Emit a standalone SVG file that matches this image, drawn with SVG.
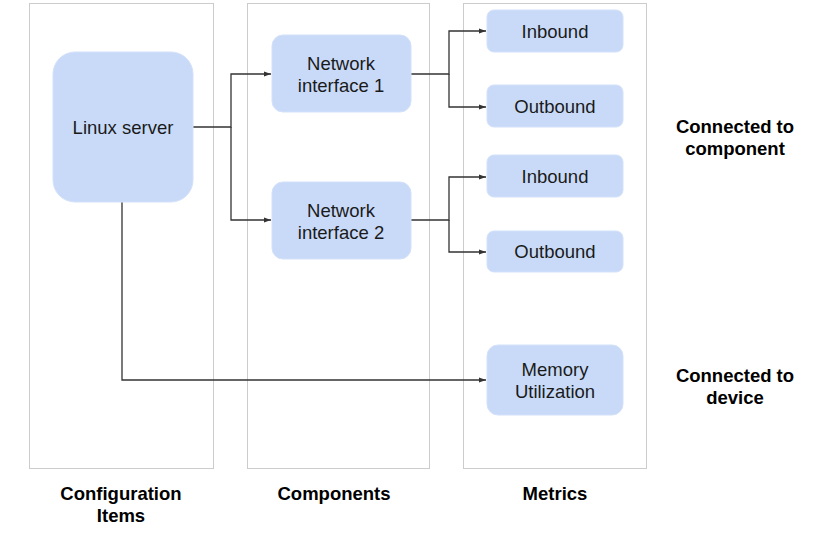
<svg xmlns="http://www.w3.org/2000/svg" width="813" height="536" viewBox="0 0 813 536">
<style>
.col{fill:#ffffff;stroke:#cccccc;stroke-width:1}
.node{fill:#c9daf8;stroke:#d3e1fa;stroke-width:1}
.t{font-family:"Liberation Sans",Arial,sans-serif;font-size:18.5px;fill:#1a1a1a;text-anchor:middle}
.b{font-family:"Liberation Sans",Arial,sans-serif;font-size:18.5px;font-weight:bold;fill:#000000;text-anchor:middle}
.c{fill:none;stroke:#333333;stroke-width:1.3}
</style>
<defs>
<marker id="ah" markerWidth="8" markerHeight="6" refX="7" refY="3" orient="auto" markerUnits="userSpaceOnUse">
<path d="M0,0.5 L7,3 L0,5.5 Z" fill="#333333"/>
</marker>
</defs>
<rect width="813" height="536" fill="#ffffff"/>
<g id="columns">
<rect class="col" x="29.5" y="3.5" width="184" height="465"/>
<rect class="col" x="247.5" y="3.5" width="182" height="465"/>
<rect class="col" x="463.5" y="3.5" width="183" height="465"/>
</g>
<g id="connectors">
<path class="c" d="M193,127 H231 V74 H271" marker-end="url(#ah)"/>
<path class="c" d="M231,127 V220 H271" marker-end="url(#ah)"/>
<path class="c" d="M411,74 H449 V31 H486" marker-end="url(#ah)"/>
<path class="c" d="M449,74 V107 H486" marker-end="url(#ah)"/>
<path class="c" d="M411,220 H449 V177 H486" marker-end="url(#ah)"/>
<path class="c" d="M449,220 V252 H486" marker-end="url(#ah)"/>
<path class="c" d="M122,202 V380 H486" marker-end="url(#ah)"/>
</g>
<g id="linux-server">
<rect class="node" x="53" y="52" width="140" height="150" rx="22"/>
<text class="t" x="123" y="134">Linux server</text>
</g>
<g id="network-interface-1">
<rect class="node" x="272" y="35" width="139" height="77" rx="11"/>
<text class="t" x="341" y="70">Network</text>
<text class="t" x="341" y="92">interface 1</text>
</g>
<g id="network-interface-2">
<rect class="node" x="272" y="182" width="139" height="77" rx="11"/>
<text class="t" x="341" y="217">Network</text>
<text class="t" x="341" y="239">interface 2</text>
</g>
<g id="inbound-1">
<rect class="node" x="487" y="10" width="136" height="42" rx="7"/>
<text class="t" x="555" y="38">Inbound</text>
</g>
<g id="outbound-1">
<rect class="node" x="487" y="85" width="136" height="42" rx="7"/>
<text class="t" x="555" y="113">Outbound</text>
</g>
<g id="inbound-2">
<rect class="node" x="487" y="155" width="136" height="42" rx="7"/>
<text class="t" x="555" y="183">Inbound</text>
</g>
<g id="outbound-2">
<rect class="node" x="487" y="231" width="136" height="41" rx="7"/>
<text class="t" x="555" y="258">Outbound</text>
</g>
<g id="memory-utilization">
<rect class="node" x="487" y="345" width="136" height="70" rx="11"/>
<text class="t" x="555" y="376">Memory</text>
<text class="t" x="555" y="398">Utilization</text>
</g>
<g id="labels">
<text class="b" x="121" y="500">Configuration</text>
<text class="b" x="121" y="522">Items</text>
<text class="b" x="334" y="500">Components</text>
<text class="b" x="555" y="500">Metrics</text>
<text class="b" x="735" y="133">Connected to</text>
<text class="b" x="735" y="155">component</text>
<text class="b" x="735" y="382">Connected to</text>
<text class="b" x="735" y="404">device</text>
</g>
</svg>
